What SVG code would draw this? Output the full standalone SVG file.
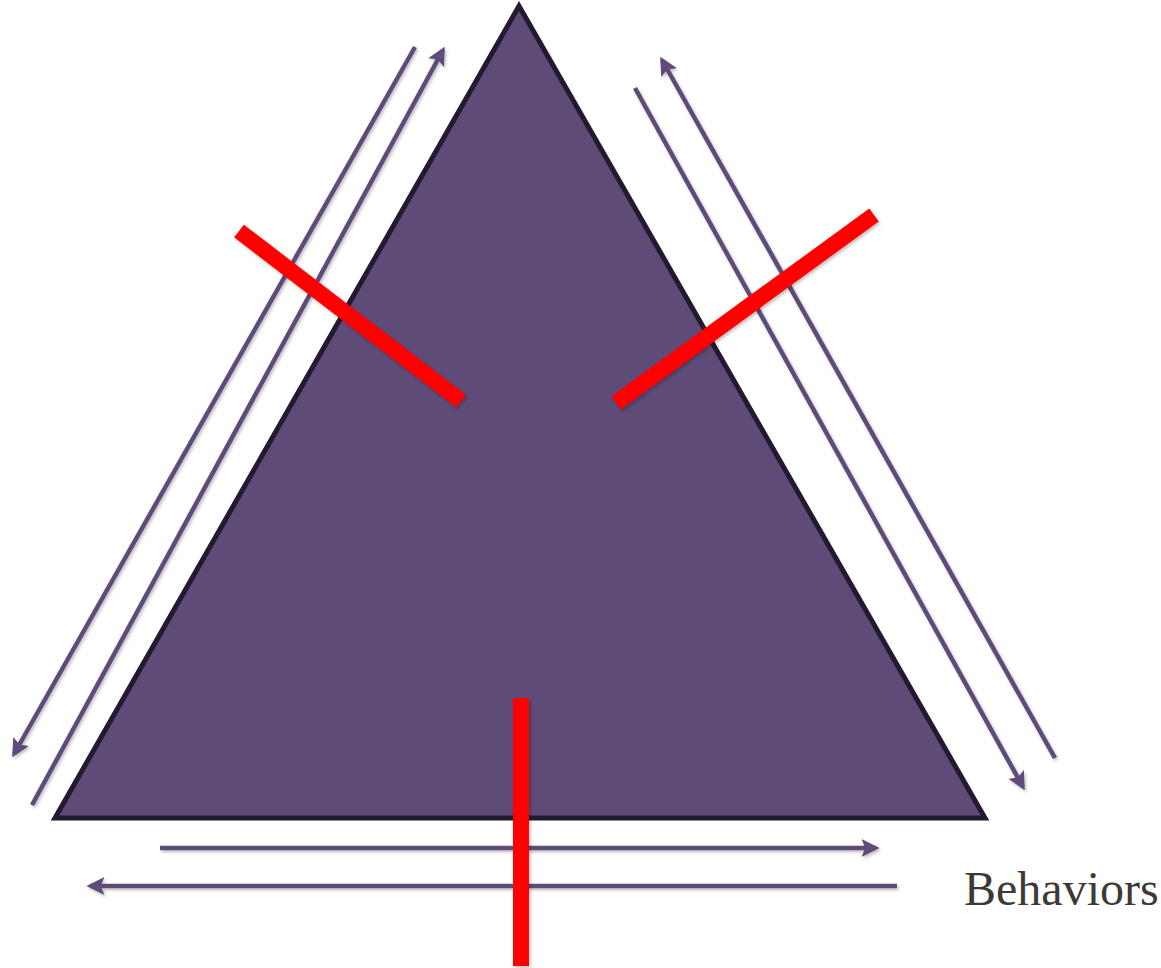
<svg xmlns="http://www.w3.org/2000/svg" width="1161" height="968" viewBox="0 0 1161 968">
<style>
.ln{stroke:#5f4b7a;stroke-width:4.5;fill:none}
.red{stroke:#ff0000;stroke-width:16;fill:none}
.lbl{font-family:"Liberation Serif","Times New Roman",serif;font-size:48px;fill:#3d3935}
</style>
<defs>
<marker id="ah" viewBox="0 0 10 10" refX="8" refY="5" markerWidth="4" markerHeight="4" orient="auto" markerUnits="strokeWidth">
<path d="M0,0 L10,5 L0,10 L2,5 z" fill="#5f4b7a"/>
</marker>
<filter id="sh" x="-5%" y="-5%" width="110%" height="110%">
<feDropShadow dx="1.5" dy="2" stdDeviation="1.5" flood-color="#000" flood-opacity="0.25"/>
</filter>
</defs>
<g id="triangle">
<polygon points="519,6 55,818 985,818" fill="#5f4b78" stroke="#231a30" stroke-width="5" stroke-linejoin="miter"/>
</g>
<g id="connectors" filter="url(#sh)">
<line class="ln" x1="415" y1="47" x2="14" y2="754" marker-end="url(#ah)"/>
<line class="ln" x1="32" y1="805" x2="443" y2="50" marker-end="url(#ah)"/>
<line class="ln" x1="1055" y1="758" x2="662" y2="60" marker-end="url(#ah)"/>
<line class="ln" x1="635" y1="88" x2="1023" y2="787" marker-end="url(#ah)"/>
<line class="ln" x1="160" y1="848" x2="876" y2="848" marker-end="url(#ah)"/>
<line class="ln" x1="897" y1="886" x2="90" y2="886" marker-end="url(#ah)"/>
</g>
<g id="bars" filter="url(#sh)">
<line class="red" x1="239" y1="231" x2="461" y2="401"/>
<line class="red" x1="874" y1="215" x2="616" y2="403"/>
<line class="red" x1="521" y1="698" x2="521" y2="966"/>
</g>
<g id="label">
<text class="lbl" x="964" y="905">Behaviors</text>
</g>
</svg>
